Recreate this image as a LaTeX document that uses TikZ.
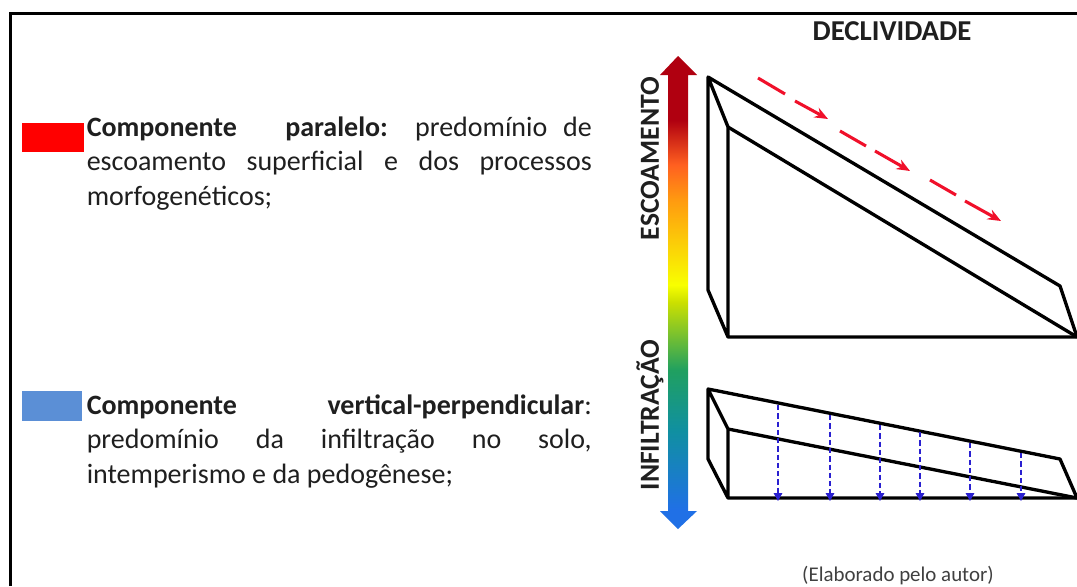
\documentclass[tikz,border=0pt]{standalone}
\usepackage{fontspec}
\setmainfont{Carlito}
\usetikzlibrary{arrows.meta}
\definecolor{legblue}{HTML}{5B8FD6}
\definecolor{arrred}{HTML}{F0102A}
\definecolor{dropblue}{HTML}{2A20D0}
\definecolor{fbblue}{HTML}{2070E6}
\definecolor{fbteal}{HTML}{1090A0}
\definecolor{fbgreen}{HTML}{20A060}
\definecolor{fblime}{HTML}{CCE000}
\definecolor{fbyellow}{HTML}{F8FF00}
\definecolor{fborange}{HTML}{FF9A10}
\definecolor{fbred}{HTML}{FF6020}
\definecolor{fbdark}{HTML}{B00010}
\pgfdeclareverticalshading{flowbar}{100bp}{
 color(0bp)=(fbblue);
 color(27bp)=(fbblue);
 color(35.5bp)=(fbteal);
 color(41.8bp)=(fbgreen);
 color(49bp)=(fblime);
 color(50.8bp)=(fbyellow);
 color(59.8bp)=(fborange);
 color(63.5bp)=(fbred);
 color(68.2bp)=(fbdark);
 color(100bp)=(fbdark)}
\newcommand{\fullline}[1]{\makebox[378.75pt][s]{#1}}
\tikzset{
 x=0.75pt,y=-0.75pt,
 frameline/.style={line width=2.3pt,black},
 wedge/.style={line width=2.5pt,black,line join=round},
 redline/.style={line width=2.3pt,arrred},
 redtip/.style={redline,-{Stealth[length=10pt,width=8pt]}},
 dropline/.style={line width=0.8pt,dropblue,dash pattern=on 4pt off 2.2pt,-{Triangle[length=6pt,width=6.5pt]}},
 para/.style={anchor=north west,inner sep=0pt,align=left,font=\fontsize{21}{25.9}\selectfont,text=black!88},
 sidelabel/.style={rotate=90,inner sep=0pt,font=\fontsize{20.7}{24}\selectfont\bfseries,text=black!88}
}
\begin{document}
\begin{tikzpicture}
\useasboundingbox (0,0) rectangle (1077,586);
\fill[white] (0,0) rectangle (1077,586);
% frame
\coordinate (fa) at (10.5,586);
\coordinate (fb) at (10.5,13.5);
\coordinate (fc) at (1077,13.5);
\draw[frameline] (fa) -- (fb) -- (fc);
% legend
\fill[red] (22,123) rectangle (84,152);
\fill[legblue] (22,391) rectangle (82,421);
\node[para] (ptop) at (86.5,116.5) {\fullline{\textbf{Componente\quad\, paralelo:} predomínio de}\\
 \fullline{escoamento superficial e dos processos}\\ morfogenéticos;};
\node[para] (pbot) at (86.5,394.5) {\fullline{\textbf{Componente vertical-perpendicular}:}\\
 \fullline{predomínio da infiltração no solo,}\\ intemperismo e da pedogênese;};
% titles
\node[inner sep=0pt,font=\fontsize{21.6}{24}\selectfont\bfseries,text=black!88] (title) at (892,31) {DECLIVIDADE};
\node[inner sep=0pt,font=\fontsize{15.7}{18}\selectfont,text=black!75] (credit) at (898,576) {(Elaborado pelo autor)};
% gradient arrow
\shade[shading=flowbar] (678,56) -- (697,75) -- (688,75) -- (688,511) -- (697,511) -- (678,529) -- (660,511) -- (668,511) -- (668,75) -- (660,75) -- cycle;
\node[sidelabel] (esc) at (650,158.5) {ESCOAMENTO};
\node[sidelabel] (inf) at (650,415) {INFILTRAÇÃO};
% upper wedge
\coordinate (ua) at (708,77);
\coordinate (ub) at (728,127);
\coordinate (uc) at (708,290);
\coordinate (ud) at (728,337);
\coordinate (ue) at (1077,337);
\coordinate (uf) at (1060,286);
\draw[wedge] (ua) -- (uf) -- (ue) -- (ud) -- (uc) -- (ua) -- (ub) -- (ud);
\draw[wedge] (ub) -- (ue);
% lower wedge
\coordinate (la) at (708,389);
\coordinate (lb) at (728,429);
\coordinate (lc) at (708,459);
\coordinate (ld) at (728,498);
\coordinate (le) at (1077,498);
\coordinate (lf) at (1060,459);
\draw[wedge] (la) -- (lf) -- (le) -- (ld) -- (lc) -- (la) -- (lb) -- (ld);
\draw[wedge] (lb) -- (le);
% blue drops
\foreach \n/\px/\py in {1/778/405, 2/830/415, 3/880/425, 4/920/432, 5/970/443, 6/1021/453}{
 \coordinate (ds\n) at (\px,\py);
 \coordinate (de\n) at (\px,501);
 \draw[dropline] (ds\n) -- (de\n);
}
% red flow arrows
\foreach \n/\ax/\ay/\bx/\by/\cx/\cy/\dx/\dy in {1/758/78/785/94/795/101/828/119, 2/840/131/866/146/875/151/910/171, 3/930/180/956/195/965/201/1001/221}{
 \coordinate (ra\n) at (\ax,\ay);
 \coordinate (rb\n) at (\bx,\by);
 \coordinate (rc\n) at (\cx,\cy);
 \coordinate (rd\n) at (\dx,\dy);
 \draw[redline] (ra\n) -- (rb\n);
 \draw[redtip] (rc\n) -- (rd\n);
}
\end{tikzpicture}
\end{document}
